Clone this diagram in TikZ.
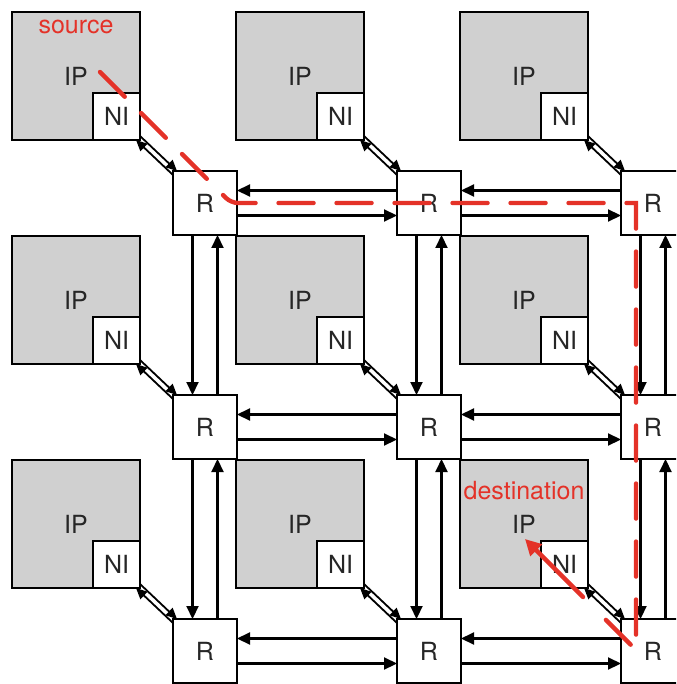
\documentclass[tikz,border=0pt]{standalone}
\usepackage{fontspec}
\setmainfont{TeX Gyre Heros}
\usetikzlibrary{arrows.meta}
\definecolor{ipgray}{RGB}{208,208,208}
\definecolor{routered}{RGB}{228,50,40}
\begin{document}
\begin{tikzpicture}[x=1pt,y=-1pt,
  lbl/.style={font=\fontsize{25}{25}\selectfont, text=black!85},
  ipbox/.style={draw, fill=ipgray, line width=2.2pt, minimum width=128pt, minimum height=128pt, inner sep=0pt, outer sep=0pt, lbl},
  nibox/.style={draw, fill=white, line width=2.2pt, minimum width=47pt, minimum height=47pt, inner sep=0pt, outer sep=0pt, lbl},
  rbox/.style={draw, fill=white, line width=2.2pt, minimum width=64pt, minimum height=64pt, inner sep=0pt, outer sep=0pt, lbl},
  link/.style={line width=2.1pt, -{Triangle[length=13pt,width=12pt]}},
  nilink/.style={line width=1.8pt, -{Triangle[length=11pt,width=10pt]}},
  redtext/.style={font=\fontsize{25}{25}\selectfont, text=routered},
  route/.style={draw=routered, line width=4.4pt, line cap=round, dash pattern=on 35pt off 23pt},
  routetip/.style={draw=routered, line width=4.4pt, line cap=round, -{Triangle[length=16pt,width=16pt]}}]
\clip (0,0) rectangle (676,684);
\fill[white] (0,0) rectangle (676,684);
% IP boxes with NI, routers
\foreach \i in {1,2,3}{
  \foreach \j in {1,2,3}{
    \node[ipbox] (IP\j\i) at ({76+224*(\i-1)},{76+224*(\j-1)}) {IP};
    \node[nibox, anchor=south east] (NI\j\i) at (IP\j\i.south east) {NI};
    \node[rbox] (R\j\i) at ({205+224*(\i-1)},{203+224*(\j-1)}) {R};
  }
}
% NI <-> R links
\foreach \j in {1,2,3}{
  \foreach \i in {1,2,3}{
    \draw[nilink] ([yshift=4pt]NI\j\i.south east) -- ([xshift=4pt]R\j\i.north west);
    \draw[nilink] ([yshift=-4pt]R\j\i.north west) -- ([xshift=-4pt]NI\j\i.south east);
  }
}
% horizontal R links
\foreach \j in {1,2,3}{
  \foreach \i/\k in {1/2,2/3}{
    \draw[link] ([yshift=12.5pt]R\j\k.west) -- ([yshift=12.5pt]R\j\i.east);
    \draw[link] ([yshift=-12.5pt]R\j\i.east) -- ([yshift=-12.5pt]R\j\k.west);
  }
}
% vertical R links
\foreach \i in {1,2,3}{
  \foreach \j/\k in {1/2,2/3}{
    \draw[link] ([xshift=-12.5pt]R\j\i.south) -- ([xshift=-12.5pt]R\k\i.north);
    \draw[link] ([xshift=12.5pt]R\k\i.north) -- ([xshift=12.5pt]R\j\i.south);
  }
}
% labels
\node[redtext] (src) at (76,27) {source};
\node[redtext] (dst) at (524,491) {destination};
% route
\coordinate (rs) at (100,72);
\coordinate (c1) at (231,203);
\coordinate (c1b) at (262,203);
\coordinate (c2) at (636,203);
\coordinate (c3) at (636,650);
\coordinate (d1) at (598,612);
\coordinate (d2) at (583,597);
\coordinate (re) at (525,539);
\draw[route] (rs) [rounded corners=7pt] -- (c1) -- (c1b) [sharp corners] -- (c2) -- (c3) -- (d1);
\draw[routetip] (d2) -- (re);
\end{tikzpicture}
\end{document}
